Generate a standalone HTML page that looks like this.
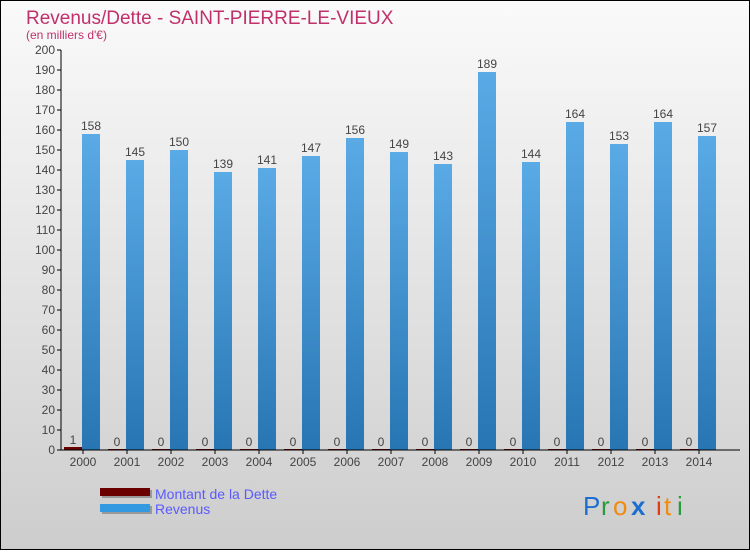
<!DOCTYPE html>
<html><head><meta charset="utf-8"><style>
body{margin:0}
svg text{font-family:"Liberation Sans",sans-serif}
</style></head><body>
<svg width="750" height="550" xmlns="http://www.w3.org/2000/svg">
<defs>
<linearGradient id="bg" x1="0" y1="0" x2="0" y2="1"><stop offset="0" stop-color="#fafafa"/><stop offset="1" stop-color="#cdcdcd"/></linearGradient>
<linearGradient id="bl" x1="0" y1="0" x2="0" y2="1"><stop offset="0" stop-color="#5aaae6"/><stop offset="1" stop-color="#2776b3"/></linearGradient>
</defs>
<rect x="0.5" y="0.5" width="749" height="549" fill="url(#bg)" stroke="#000"/>
<text x="26" y="24" font-size="19" fill="#c0306a">Revenus/Dette - SAINT-PIERRE-LE-VIEUX</text>
<text x="26" y="39" font-size="12" fill="#c0306a">(en milliers d'€)</text>
<g id="yaxis"></g>
<g id="bars"></g>
<g id="xaxis"></g>
<g>
<rect x="102" y="490" width="50" height="8" fill="#999"/>
<rect x="100" y="488" width="50" height="8" fill="#6b0000"/>
<text x="155" y="499" font-size="14" fill="#5a5aff">Montant de la Dette</text>
<rect x="102" y="506" width="50" height="8" fill="#999"/>
<rect x="100" y="504" width="50" height="8" fill="#3399e0"/>
<text x="155" y="514" font-size="14" fill="#5a5aff">Revenus</text>
</g>
<g font-size="26" font-family="Liberation Sans,sans-serif">
<text x="583" y="515" fill="#1a6fd0">P</text><text x="601" y="515" fill="#2a9a3a">r</text><text x="613" y="515" fill="#f08a10">o</text><text x="631" y="515" fill="#1a6fd0" font-weight="bold">x</text><text x="656" y="515" fill="#e83a10">i</text><text x="664" y="515" fill="#f08a10">t</text><text x="677" y="515" fill="#2a9a3a">i</text>
</g>
<line x1="61" y1="450" x2="740" y2="450" stroke="#000"/>
<line x1="61" y1="50" x2="61" y2="450" stroke="#000"/>
</svg>
<script>
const years=["2000","2001","2002","2003","2004","2005","2006","2007","2008","2009","2010","2011","2012","2013","2014"];
const revenus=[158,145,150,139,141,147,156,149,143,189,144,164,153,164,157];
const dette=[1,0,0,0,0,0,0,0,0,0,0,0,0,0,0];
const yTicks=[0,10,20,30,40,50,60,70,80,90,100,110,120,130,140,150,160,170,180,190,200];
const NS="http://www.w3.org/2000/svg";
const x0=61,step=44,y=v=>450-v*2;
function el(t,a,p,txt){const e=document.createElementNS(NS,t);for(const k in a)e.setAttribute(k,a[k]);if(txt!==undefined)e.textContent=txt;p.appendChild(e);return e;}
const ya=document.getElementById('yaxis'),bs=document.getElementById('bars'),xa=document.getElementById('xaxis');
yTicks.forEach(t=>{
 const l=el('line',{x1:57,x2:61,y1:y(t),y2:y(t),stroke:'#000'},ya);
 
 
 const tx=el('text',{x:55,y:y(t)+4,'font-size':12,fill:'#444','text-anchor':'end'},ya,t);
 
 
});
years.forEach((yr,i)=>{
 const gx=x0+step*i;
 const d=el('rect',{x:gx+3,y:y(dette[i])-1,width:18,height:dette[i]*2+1,fill:'#6b0000'},bs);
 
 
 const dl=el('text',{x:gx+12,y:y(dette[i])-4,'font-size':12,fill:'#444','text-anchor':'middle'},bs,dette[i]);
 
 
 const r=el('rect',{x:gx+21,y:y(revenus[i]),width:18,height:revenus[i]*2,fill:'url(#bl)'},bs);
 
 
 const rl=el('text',{x:gx+30,y:y(revenus[i])-4,'font-size':12,fill:'#444','text-anchor':'middle'},bs,revenus[i]);
 
 
 const tk=el('line',{x1:gx+22,x2:gx+22,y1:450,y2:454,stroke:'#000'},xa);
 
 
 const xl=el('text',{x:gx+22,y:466,'font-size':12,fill:'#444','text-anchor':'middle'},xa,yr);
 
 
});
</script>
</body></html>
